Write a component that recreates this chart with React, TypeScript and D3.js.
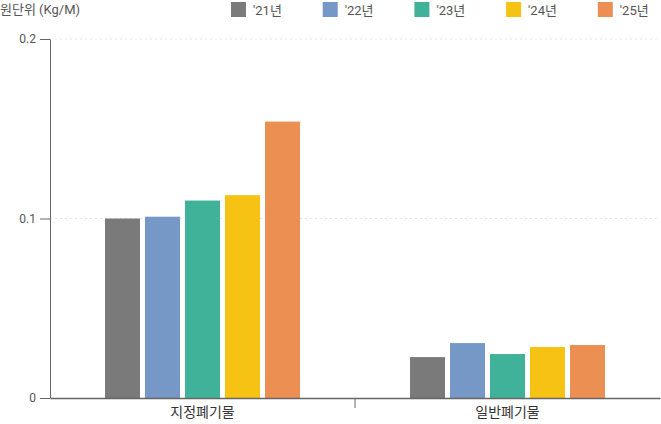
import { useEffect, useRef } from 'react'
import * as d3 from 'd3'

const categories = ['지정폐기물', '일반폐기물']
const years = ["'21년", "'22년", "'23년", "'24년", "'25년"]
const colors = ['#7a7a7a', '#7698c6', '#41b29a', '#f6c314', '#ec8f53']
// values per year, [지정, 일반]
const y21 = [0.1, 0.0228]
const y22 = [0.101, 0.0306]
const y23 = [0.11, 0.0245]
const y24 = [0.113, 0.0284]
const y25 = [0.154, 0.0295]
const series = [y21, y22, y23, y24, y25]
const yTicks = [0, 0.1, 0.2]

export default function App() {
  const ref = useRef<SVGSVGElement | null>(null)

  useEffect(() => {
    if (!ref.current) return
    const width = 661
    const height = 424
    const margin = { top: 39, right: 1, bottom: 26, left: 50 }
    const font = 'Roboto, "Noto Sans CJK KR", sans-serif'

    const svg = d3.select(ref.current)
    svg.selectAll('*').remove()

    const x0 = d3
      .scaleBand()
      .domain(categories)
      .range([margin.left, width - margin.right])
    const x1 = d3
      .scaleBand()
      .domain(years)
      .range([0, 195])
      .paddingInner(0.125)
    const groupOffset = (x0.bandwidth() - 195) / 2

    const y = d3
      .scaleLinear()
      .domain([0, 0.2])
      .range([height - margin.bottom, margin.top])

    // grid
    svg
      .append('g')
      .selectAll('line')
      .data(yTicks.filter((t) => t > 0))
      .enter()
      .append('line')
      .attr('x1', margin.left)
      .attr('x2', width - margin.right)
      .attr('y1', (d) => y(d))
      .attr('y2', (d) => y(d))
      .attr('stroke', '#e4e4e4')
      .attr('stroke-dasharray', '2,3')

    // bars
    const groups = svg
      .append('g')
      .selectAll('g')
      .data(categories)
      .enter()
      .append('g')
      .attr('transform', (c) => `translate(${(x0(c) ?? 0) + groupOffset},0)`)

    groups
      .selectAll('rect')
      .data((c, ci) => years.map((yr, i) => ({ yr, i, v: series[i][ci] })))
      .enter()
      .append('rect')
      .attr('x', (d) => x1(d.yr) ?? 0)
      .attr('y', (d) => y(d.v))
      .attr('width', x1.bandwidth())
      .attr('height', (d) => y(0) - y(d.v))
      .attr('fill', (d) => colors[d.i])

    // y axis
    const yAxis = svg
      .append('g')
      .attr('transform', `translate(${margin.left},0)`)
      .call(
        d3
          .axisLeft(y)
          .tickValues(yTicks)
          .tickSize(10)
          .tickSizeOuter(0)
          .tickPadding(4)
          .tickFormat((d) => `${d}`),
      )
    yAxis.select('.domain').attr('stroke', '#666')
    yAxis.selectAll('line').attr('stroke', '#666')
    yAxis
      .selectAll('text')
      .attr('fill', '#555')
      .attr('font-size', 12)
      .attr('font-family', font)

    // x axis
    const xAxis = svg
      .append('g')
      .attr('transform', `translate(0,${y(0)})`)
      .call(d3.axisBottom(x0).tickSize(0).tickSizeOuter(0).tickPadding(9))
    xAxis.select('.domain').attr('stroke', '#666').attr('stroke-width', 1.5)
    xAxis
      .selectAll('text')
      .attr('fill', '#333')
      .attr('font-size', 14)
      .attr('font-family', font)

    // divider ticks between bands
    svg
      .append('g')
      .selectAll('line')
      .data(categories.slice(1))
      .enter()
      .append('line')
      .attr('x1', (c) => x0(c) ?? 0)
      .attr('x2', (c) => x0(c) ?? 0)
      .attr('y1', y(0))
      .attr('y2', y(0) + 10)
      .attr('stroke', '#666')

    // unit title
    svg
      .append('text')
      .attr('x', 0)
      .attr('y', 14)
      .attr('fill', '#555')
      .attr('font-size', 13)
      .attr('font-family', font)
      .text('원단위 (Kg/M)')

    // legend
    const legend = svg
      .append('g')
      .selectAll('g')
      .data(years)
      .enter()
      .append('g')
      .attr('transform', (_, i) => `translate(${231 + i * 91.7},2)`)
    legend
      .append('rect')
      .attr('width', 15)
      .attr('height', 15)
      .attr('fill', (_, i) => colors[i])
    legend
      .append('text')
      .attr('x', 22)
      .attr('y', 12.5)
      .attr('fill', '#555')
      .attr('font-size', 13)
      .attr('font-family', font)
      .text((d) => d)
  }, [])

  return (
    <svg
      ref={ref}
      width={661}
      height={424}
      style={{ position: 'absolute', left: 0, top: 0, background: '#fff' }}
    />
  )
}
